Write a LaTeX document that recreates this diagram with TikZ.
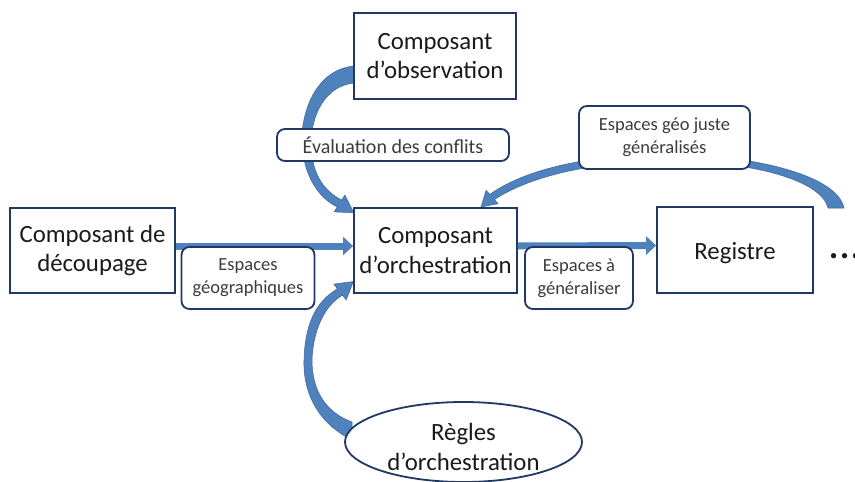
\documentclass[tikz,border=0pt]{standalone}
\usepackage{fontspec}
\setmainfont{Carlito}
\usetikzlibrary{shapes.geometric,arrows.meta}
\definecolor{navy}{RGB}{31,56,100}
\definecolor{arrblue}{RGB}{79,129,189}
\definecolor{arredge}{RGB}{60,100,155}
\definecolor{txt}{RGB}{26,26,26}
\definecolor{lbltxt}{RGB}{60,60,60}
\begin{document}
\begin{tikzpicture}[x=1pt,y=-1pt,
 box/.style={draw=navy,line width=1.8pt,fill=white,inner sep=0pt,align=center,font=\fontsize{24.8}{29.5}\selectfont,text=txt},
 plain/.style={inner sep=0pt,align=center,font=\fontsize{24.8}{29.5}\selectfont,text=txt},
 lbl/.style={draw=navy,line width=1.8pt,fill=white,rounded corners=8pt,inner sep=0pt,align=center,font=\fontsize{18.5}{23}\selectfont,text=lbltxt},
 arr/.style={fill=arrblue,draw=arredge,line width=0.5pt},
 harrow/.style={draw=arrblue,line width=7pt,-{Triangle[length=10pt,width=18pt]}},
]
\useasboundingbox (0,0) rectangle (855,482);
% curved arrows (drawn first)
\filldraw[arr] (354,66) .. controls (312,70) and (300,120) .. (302,145) .. controls (304,175) and (318,198) .. (337.3,206.9) -- (334.1,211.9) -- (353.8,212.7) -- (344.9,195.1) -- (341.7,200.1) .. controls (322,190) and (312,172) .. (311,145) .. controls (311,115) and (325,86) .. (354,83) -- cycle;
\filldraw[arr] (352,440) .. controls (312,420) and (303,385) .. (304,360) .. controls (305,325) and (315,302) .. (337.5,288.8) -- (333.8,284.1) -- (353.4,281.5) -- (346.2,299.9) -- (342.5,295.2) .. controls (325,305) and (313,330) .. (312,360) .. controls (312,390) and (325,412) .. (352,422) -- cycle;
\filldraw[arr] (844,208) .. controls (832,150) and (580,130) .. (489.8,194.4) -- (486.1,190.3) -- (481,207) -- (498.1,203.7) -- (494.4,199.6) .. controls (585,140) and (815,155) .. (828,208) -- cycle;
% boxes
\node[box,minimum width=162pt,minimum height=86pt] (obs) at (435,56) {Composant\\d’observation};
\node[box,minimum width=163pt,minimum height=85pt] (orch) at (435.5,250.5) {Composant\\d’orchestration};
\node[box,minimum width=165pt,minimum height=85pt] (decoup) at (92.5,250.5) {Composant de\\découpage};
\node[box,minimum width=156pt,minimum height=86pt] (reg) at (735,250) {};
\node[plain] (regtxt) at ([yshift=-3pt]reg.center) {Registre};
\node[box,ellipse,minimum width=237pt,minimum height=80pt] (regles) at (463.5,442) {};
\node[plain] (reglestxt) at ([yshift=-5pt]regles.center) {Règles\\d’orchestration};
% straight arrows
\draw[harrow] ([yshift=4.5pt]decoup.east) -- ([yshift=4.5pt]orch.west);
\draw[harrow] ([yshift=4.5pt]orch.east) -- ([yshift=4.5pt]reg.west);
% labels
\node[lbl,minimum width=232pt,minimum height=32pt,font=\fontsize{20}{24}\selectfont] (eval) at (393,145) {Évaluation des conflits};
\node[lbl,minimum width=133pt,minimum height=62pt] (geo) at (248,278) {Espaces\\géographiques};
\node[lbl,minimum width=108pt,minimum height=62pt] (gen) at (579,278) {Espaces à\\généraliser};
\node[lbl,minimum width=171pt,minimum height=63pt] (juste) at (664.5,137.5) {Espaces géo juste\\généralisés};
\node[font=\fontsize{44}{44}\selectfont,anchor=base west,inner sep=0pt,text=txt] (dots) at (828,258) {...};
\end{tikzpicture}
\end{document}
